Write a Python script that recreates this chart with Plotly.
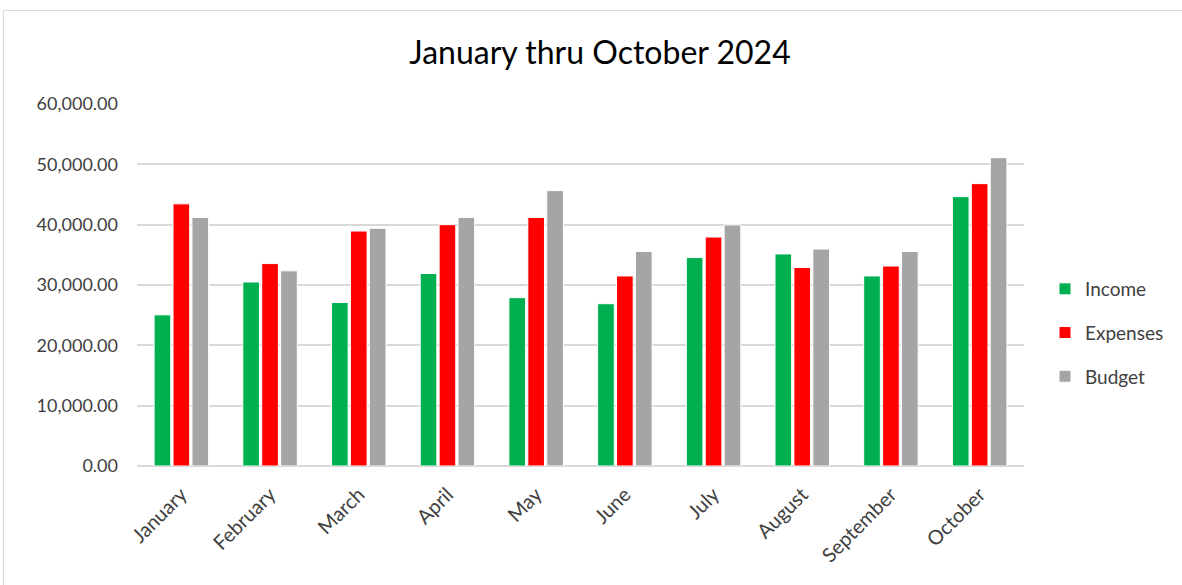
import plotly.graph_objects as go

months = ["January", "February", "March", "April", "May", "June",
          "July", "August", "September", "October"]
income = [25050, 30500, 27100, 31900, 27900, 26900, 34550, 35150, 31500, 44650]
expenses = [43450, 33550, 38950, 40000, 41200, 31500, 37950, 32900, 33150, 46800]
budget = [41200, 32350, 39400, 41200, 45650, 35550, 39950, 35950, 35550, 51100]

FONT = "Lato, Open Sans, sans-serif"
W, H = 1182, 585
ml, mr, mt, mb = 137, 0, 104, 119
plot_right = 1024
pw = W - ml - mr
ph = H - mt - mb
xdom = (plot_right - ml) / pw

fig = go.Figure()
for name, vals, col in [("Income", income, "#00B050"),
                        ("Expenses", expenses, "#FF0000"),
                        ("Budget", budget, "#A5A5A5")]:
    fig.add_trace(go.Bar(x=months, y=vals, name=name, legendgroup=name,
                         marker=dict(color=col, line=dict(color="white", width=1))))

fig.add_shape(type="rect", xref="paper", yref="paper",
              x0=(3.5 - ml) / pw, x1=(1200 - ml) / pw,
              y0=1 + (mt - 10.5) / ph, y1=-(H + 20 - mt - ph) / ph,
              line=dict(color="#D9D9D9", width=1), fillcolor="rgba(0,0,0,0)", layer="below")

fig.update_layout(
    width=W, height=H,
    margin=dict(l=ml, r=mr, t=mt, b=mb, autoexpand=False),
    paper_bgcolor="white", plot_bgcolor="white",
    font=dict(family=FONT, color="#404040"),
    title=dict(text="January thru October 2024", x=600 / W, xanchor="center",
               y=1 - 53 / H, yanchor="middle",
               font=dict(family=FONT, size=32, color="#000000")),
    barmode="group", bargap=0.36, bargroupgap=0.12,
    legend=dict(x=(1045 - ml) / pw, xanchor="left",
                y=1 - (333 - mt) / ph, yanchor="middle",
                font=dict(family=FONT, size=19, color="#404040"),
                tracegroupgap=16, itemwidth=30, bgcolor="rgba(0,0,0,0)"),
    showlegend=True,
)
fig.update_yaxes(range=[0, 60000], dtick=10000, tickformat=",.2f",
                 showgrid=True, gridcolor="#D9D9D9", gridwidth=2,
                 zeroline=True, zerolinecolor="#D9D9D9", zerolinewidth=2,
                 showline=False, ticks="", ticklabelstandoff=18,
                 tickfont=dict(family=FONT, size=18, color="#404040"))
fig.update_xaxes(domain=[0, xdom], tickangle=-45, showline=False, ticks="",
                 ticklabelstandoff=12,
                 tickfont=dict(family=FONT, size=20, color="#404040"))

fig.write_html("out.html", config={"displayModeBar": False},
               post_script="document.body.style.margin='0px';")
